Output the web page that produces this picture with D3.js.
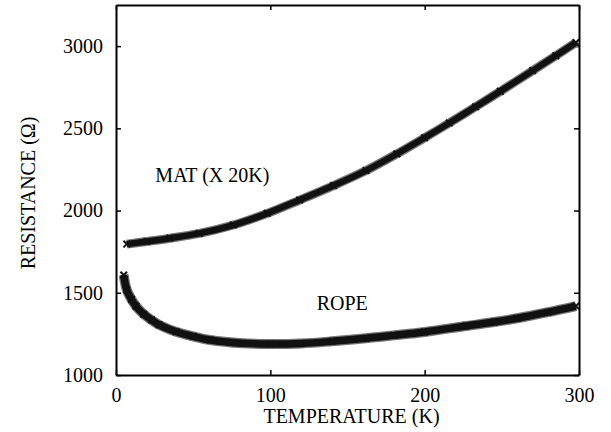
<!DOCTYPE html>
<html>
<head>
<meta charset="utf-8">
<script src="https://cdn.jsdelivr.net/npm/d3@7"></script>
<style>
  body { margin: 0; background: #fff; }
  svg text { font-family: "Liberation Serif", "DejaVu Serif", serif !important; }
  .axis path, .axis line { stroke: #000; }
  .axis path { stroke-width: 2; }
  .axis line { stroke-width: 1.5; }
</style>
</head>
<body>
<svg width="611" height="432"></svg>
<script>
// data
const matTemp = [7, 20, 35, 54, 76, 98, 119, 141, 162, 182, 200, 216, 233, 249, 270, 285, 298];
const matRes  = [1796, 1812, 1832, 1861, 1912, 1983, 2064, 2152, 2243, 2345, 2443, 2533, 2631, 2725, 2851, 2942, 3022];

const ropeTemp = [5, 7, 10, 13, 18, 23, 28, 39, 50, 61, 82, 100, 120, 140, 162, 180, 200, 227, 245, 260, 280, 298];
const ropeRes  = [1608, 1517, 1460, 1418, 1370, 1335, 1305, 1263, 1235, 1213, 1193, 1188, 1192, 1205, 1223, 1241, 1262, 1298, 1322, 1345, 1382, 1419];

const xTicks = [0, 100, 200, 300];
const yTicks = [1000, 1500, 2000, 2500, 3000];

// dimensions
const margin = {top: 5, right: 32, bottom: 57, left: 116};
const width = 611 - margin.left - margin.right;
const height = 432 - margin.top - margin.bottom;

const svg = d3.select("svg")
    .append("g")
    .attr("transform", `translate(${margin.left},${margin.top})`);

const x = d3.scaleLinear().domain([0, 300]).range([0, width]);
const y = d3.scaleLinear().domain([1000, 3250]).range([height, 0]);

// axes, ticks pointing inward
svg.append("g")
    .attr("class", "axis")
    .attr("transform", `translate(0,${height})`)
    .call(d3.axisBottom(x).tickValues(xTicks).tickFormat(d3.format("d"))
        .tickSizeInner(-5).tickSizeOuter(0).tickPadding(13))
    .attr("font-size", 20);

svg.append("g")
    .attr("class", "axis")
    .call(d3.axisLeft(y).tickValues(yTicks).tickFormat(d3.format("d"))
        .tickSizeInner(-5).tickSizeOuter(0).tickPadding(13))
    .attr("font-size", 20);

svg.append("g")
    .attr("class", "axis")
    .call(d3.axisTop(x).tickValues(xTicks).tickSizeInner(-5).tickSizeOuter(0).tickFormat(""));

svg.append("g")
    .attr("class", "axis")
    .attr("transform", `translate(${width},0)`)
    .call(d3.axisRight(y).tickValues(yTicks).tickSizeInner(-5).tickSizeOuter(0).tickFormat(""));

// curves
const series = [
    {temp: matTemp, res: matRes, w: 8},
    {temp: ropeTemp, res: ropeRes, w: 9}
];

const line = d3.line()
    .x(d => x(d[0]))
    .y(d => y(d[1]))
    .curve(d3.curveCatmullRom.alpha(0.5));

const cross = d3.symbol().type(d3.symbolTimes || d3.symbolCross).size(30);

series.forEach(s => {
    const pts = s.temp.map((t, i) => [t, s.res[i]]);

    // grey fuzzy edge of the dense markers
    svg.append("path")
        .datum(pts)
        .attr("fill", "none")
        .attr("stroke", "#777")
        .attr("stroke-width", s.w + 1)
        .attr("d", line);

    svg.append("path")
        .datum(pts)
        .attr("fill", "none")
        .attr("stroke", "#111")
        .attr("stroke-width", s.w - 1.5)
        .attr("d", line);

    // cross markers, mostly hidden in the thick band
    svg.selectAll(null)
        .data(pts)
        .enter().append("path")
        .attr("transform", d => `translate(${x(d[0])},${y(d[1])})` + (d3.symbolTimes ? "" : " rotate(45)"))
        .attr("d", cross)
        .attr("fill", "none")
        .attr("stroke", "#111")
        .attr("stroke-width", 2);
});

// labels
svg.append("text")
    .attr("x", x(25.5))
    .attr("y", y(2175))
    .attr("font-size", 20)
    .text("MAT (X 20K)");

svg.append("text")
    .attr("x", x(130))
    .attr("y", y(1395))
    .attr("font-size", 20)
    .text("ROPE");

// x-axis label
svg.append("text")
    .attr("x", width / 2 + 4)
    .attr("y", height + 48)
    .attr("text-anchor", "middle")
    .attr("font-size", 20)
    .text("TEMPERATURE (K)");

// y-axis label
svg.append("text")
    .attr("transform", "rotate(-90)")
    .attr("x", -height / 2 - 3)
    .attr("y", -81)
    .attr("text-anchor", "middle")
    .attr("font-size", 20)
    .text("RESISTANCE (Ω)");
</script>
</body>
</html>
